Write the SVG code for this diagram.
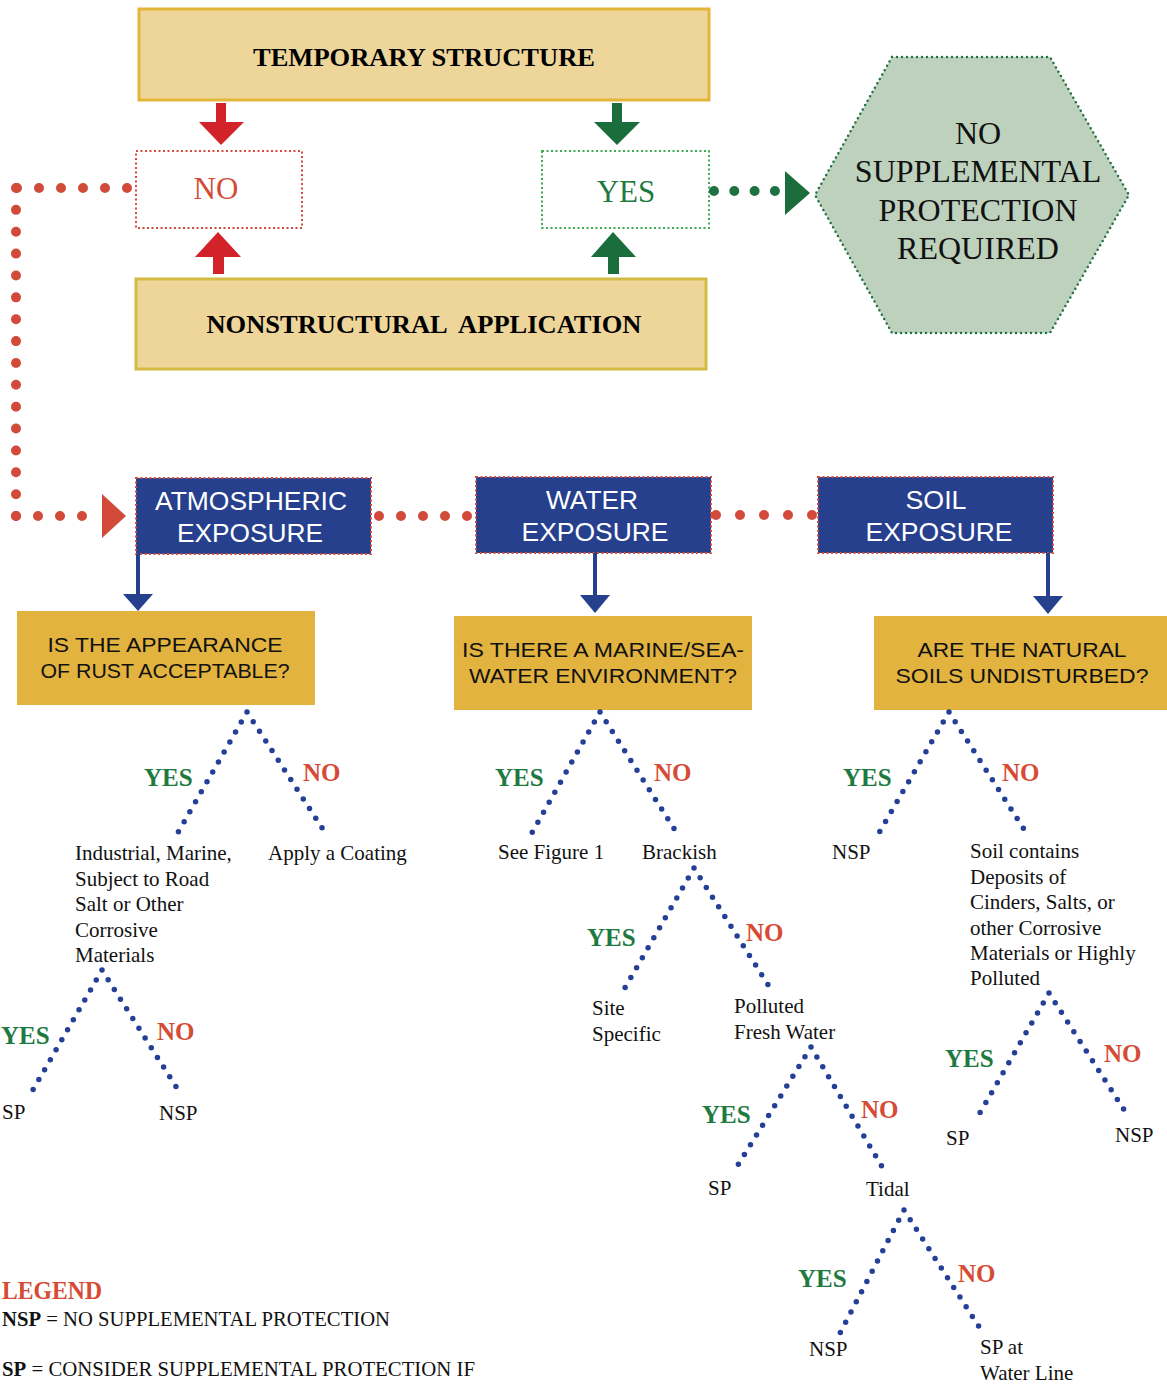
<svg xmlns="http://www.w3.org/2000/svg" width="1167" height="1384" viewBox="0 0 1167 1384">
<style>
.tan{fill:#EED69B;stroke:#E3B63A;stroke-width:3}
.tan2{fill:#EED69B;stroke:#D4BC44;stroke-width:3}
.q{fill:#E2B33E}
.blue{fill:#26408E;stroke:#D24B3A;stroke-width:2;stroke-dasharray:2 2.5}
.hdr{font-family:"Liberation Serif",serif;font-weight:bold;font-size:26px;fill:#000;text-anchor:middle}
.sans{font-family:"Liberation Sans",Arial,sans-serif;text-anchor:middle}
.wt{font-size:26px;fill:#fff}
.qt{font-size:21px;fill:#111}
.serif{font-family:"Liberation Serif",serif;font-size:21px;fill:#111}
.yes{font-family:"Liberation Serif",serif;font-weight:bold;font-size:25px;fill:#1E7A40}
.no{font-family:"Liberation Serif",serif;font-weight:bold;font-size:25px;fill:#D64B35}
.bd{fill:none;stroke:#243F96;stroke-width:5.5;stroke-linecap:round;stroke-dasharray:0 11.5}
.rd{fill:none;stroke:#D24B3A;stroke-width:10;stroke-linecap:round;stroke-dasharray:0 22}
.gd{fill:none;stroke:#1E7140;stroke-width:10;stroke-linecap:round;stroke-dasharray:0 20.3}
.hex{font-family:"Liberation Serif",serif;font-size:32px;fill:#111;text-anchor:middle}
</style>

<g id="temporary">
<rect class="tan" x="139" y="9" width="570" height="91"/>
<text class="hdr" x="424" y="66" textLength="342" lengthAdjust="spacingAndGlyphs">TEMPORARY STRUCTURE</text>
</g>
<g id="nonstructural">
<rect class="tan2" x="136" y="279" width="570" height="90"/>
<text class="hdr" x="424" y="333" textLength="435" lengthAdjust="spacingAndGlyphs" xml:space="preserve">NONSTRUCTURAL  APPLICATION</text>
</g>
<g id="no-box">
<rect x="136" y="151" width="166" height="77" fill="#fff" stroke="#D24B3A" stroke-width="2" stroke-dasharray="2 2.5"/>
<text x="216" y="199" font-family="Liberation Serif,serif" font-size="31" fill="#D64B35" text-anchor="middle">NO</text>
</g>
<g id="yes-box">
<rect x="542" y="151" width="167" height="77" fill="#fff" stroke="#3FAA55" stroke-width="2" stroke-dasharray="2 2.5"/>
<text x="626" y="202" font-family="Liberation Serif,serif" font-size="31" fill="#1E7A40" text-anchor="middle">YES</text>
</g>
<g id="nsp-hexagon">
<polygon points="892,57 1050,57 1129,195 1050,333 892,333 815,195" fill="#BDD1BD" stroke="#1E7140" stroke-width="2.5" stroke-linecap="round" stroke-dasharray="0 5"/>
<text class="hex" x="978" y="144">NO</text>
<text class="hex" x="978" y="182">SUPPLEMENTAL</text>
<text class="hex" x="978" y="221">PROTECTION</text>
<text class="hex" x="978" y="259">REQUIRED</text>
</g>

<g id="atmospheric">
<rect class="blue" x="136" y="478" width="235" height="76"/>
<text class="sans wt" x="251" y="510" textLength="192" lengthAdjust="spacingAndGlyphs">ATMOSPHERIC</text>
<text class="sans wt" x="250" y="542" textLength="146" lengthAdjust="spacingAndGlyphs">EXPOSURE</text>
</g>
<g id="water">
<rect class="blue" x="476" y="477" width="235" height="76"/>
<text class="sans wt" x="592" y="509" textLength="92" lengthAdjust="spacingAndGlyphs">WATER</text>
<text class="sans wt" x="595" y="541" textLength="147" lengthAdjust="spacingAndGlyphs">EXPOSURE</text>
</g>
<g id="soil">
<rect class="blue" x="818" y="477" width="235" height="76"/>
<text class="sans wt" x="936" y="509" textLength="61" lengthAdjust="spacingAndGlyphs">SOIL</text>
<text class="sans wt" x="939" y="541" textLength="147" lengthAdjust="spacingAndGlyphs">EXPOSURE</text>
</g>

<g id="q-rust">
<rect class="q" x="17" y="611" width="298" height="94"/>
<text class="sans qt" x="165" y="652" textLength="235" lengthAdjust="spacingAndGlyphs">IS THE APPEARANCE</text>
<text class="sans qt" x="165" y="678" textLength="249" lengthAdjust="spacingAndGlyphs">OF RUST ACCEPTABLE?</text>
</g>
<g id="q-marine">
<rect class="q" x="454" y="616" width="298" height="94"/>
<text class="sans qt" x="603" y="657" textLength="282" lengthAdjust="spacingAndGlyphs">IS THERE A MARINE/SEA-</text>
<text class="sans qt" x="603" y="683" textLength="268" lengthAdjust="spacingAndGlyphs">WATER ENVIRONMENT?</text>
</g>
<g id="q-soils">
<rect class="q" x="874" y="616" width="293" height="94"/>
<text class="sans qt" x="1022" y="657" textLength="209" lengthAdjust="spacingAndGlyphs">ARE THE NATURAL</text>
<text class="sans qt" x="1022" y="683" textLength="253" lengthAdjust="spacingAndGlyphs">SOILS UNDISTURBED?</text>
</g>

<g id="connectors">
<path d="M216,103 H226 V122 H244 L221,145 L199,122 H216 Z" fill="#D2232A"/>
<path d="M612,103 H622 V122 H640 L617,145 L594,122 H612 Z" fill="#1B6E3C"/>
<path d="M213,274 H224 V257 H241 L218,232 L195,257 H213 Z" fill="#D2232A"/>
<path d="M608,274 H619 V257 H636 L613,232 L591,257 H608 Z" fill="#1B6E3C"/>
<path class="gd" d="M714,191 H776"/>
<polygon points="785,171 785,215 810,193" fill="#1B6E3C"/>
<path class="rd" d="M127,188 H15"/>
<path class="rd" d="M16,188 V517" style="stroke-dasharray:0 21.87"/>
<path class="rd" d="M16,516 H84"/>
<polygon points="102,494 102,538 126,516" fill="#D24B3A"/>
<path class="rd" d="M379,516 H468" style="stroke-dasharray:0 22"/>
<path class="rd" d="M716,515 H813" style="stroke-dasharray:0 24"/>
<g fill="#26408E" stroke="#26408E">
<line x1="138" y1="554" x2="138" y2="595" stroke-width="4"/>
<polygon points="123,594 153,594 138,611" stroke="none"/>
<line x1="595" y1="553" x2="595" y2="596" stroke-width="4"/>
<polygon points="580,595 610,595 595,613" stroke="none"/>
<line x1="1048" y1="553" x2="1048" y2="597" stroke-width="4"/>
<polygon points="1033,596 1063,596 1048,614" stroke="none"/>
</g>
<path class="bd" d="M247,712 L176,836 M247,712 L326,834"/>
<path class="bd" d="M102,970 L30,1095 M102,970 L180,1093"/>
<path class="bd" d="M600,712 L529,838 M600,712 L680,838"/>
<path class="bd" d="M694,868 L622,993 M694,868 L772,991"/>
<path class="bd" d="M811,1047 L733,1173 M811,1047 L884,1170"/>
<path class="bd" d="M904,1210 L838,1337 M904,1210 L983,1333"/>
<path class="bd" d="M949,712 L876,838 M949,712 L1027,834"/>
<path class="bd" d="M1049,993 L977,1118 M1049,993 L1128,1116"/>
</g>

<g id="tree-labels">
<text class="yes" x="144" y="786">YES</text>
<text class="no" x="303" y="781">NO</text>
<text class="yes" x="1" y="1044">YES</text>
<text class="no" x="157" y="1040">NO</text>
<text class="yes" x="495" y="786">YES</text>
<text class="no" x="654" y="781">NO</text>
<text class="yes" x="587" y="946">YES</text>
<text class="no" x="746" y="941">NO</text>
<text class="yes" x="702" y="1123">YES</text>
<text class="no" x="861" y="1118">NO</text>
<text class="yes" x="798" y="1287">YES</text>
<text class="no" x="958" y="1282">NO</text>
<text class="yes" x="843" y="786">YES</text>
<text class="no" x="1002" y="781">NO</text>
<text class="yes" x="945" y="1067">YES</text>
<text class="no" x="1104" y="1062">NO</text>
</g>

<g id="outcomes">
<text class="serif" x="75" y="860">Industrial, Marine,</text>
<text class="serif" x="75" y="886">Subject to Road</text>
<text class="serif" x="75" y="911">Salt or Other</text>
<text class="serif" x="75" y="937">Corrosive</text>
<text class="serif" x="75" y="962">Materials</text>
<text class="serif" x="268" y="860">Apply a Coating</text>
<text class="serif" x="2" y="1119">SP</text>
<text class="serif" x="159" y="1120">NSP</text>
<text class="serif" x="498" y="859">See Figure 1</text>
<text class="serif" x="642" y="859">Brackish</text>
<text class="serif" x="592" y="1015">Site</text>
<text class="serif" x="592" y="1041">Specific</text>
<text class="serif" x="734" y="1013">Polluted</text>
<text class="serif" x="734" y="1039">Fresh Water</text>
<text class="serif" x="708" y="1195">SP</text>
<text class="serif" x="866" y="1196">Tidal</text>
<text class="serif" x="809" y="1356">NSP</text>
<text class="serif" x="980" y="1354">SP at</text>
<text class="serif" x="980" y="1380">Water Line</text>
<text class="serif" x="832" y="859">NSP</text>
<text class="serif" x="970" y="858">Soil contains</text>
<text class="serif" x="970" y="884">Deposits of</text>
<text class="serif" x="970" y="909">Cinders, Salts, or</text>
<text class="serif" x="970" y="935">other Corrosive</text>
<text class="serif" x="970" y="960">Materials or Highly</text>
<text class="serif" x="970" y="985">Polluted</text>
<text class="serif" x="946" y="1145">SP</text>
<text class="serif" x="1115" y="1142">NSP</text>
</g>

<g id="legend">
<text x="2" y="1299" font-family="Liberation Serif,serif" font-weight="bold" font-size="26" fill="#D64B35" textLength="100" lengthAdjust="spacingAndGlyphs">LEGEND</text>
<text class="serif" x="2" y="1326" textLength="388" lengthAdjust="spacingAndGlyphs"><tspan font-weight="bold">NSP</tspan> = NO SUPPLEMENTAL PROTECTION</text>
<text class="serif" x="2" y="1376" textLength="473" lengthAdjust="spacingAndGlyphs"><tspan font-weight="bold">SP</tspan> = CONSIDER SUPPLEMENTAL PROTECTION IF</text>
</g>
</svg>
